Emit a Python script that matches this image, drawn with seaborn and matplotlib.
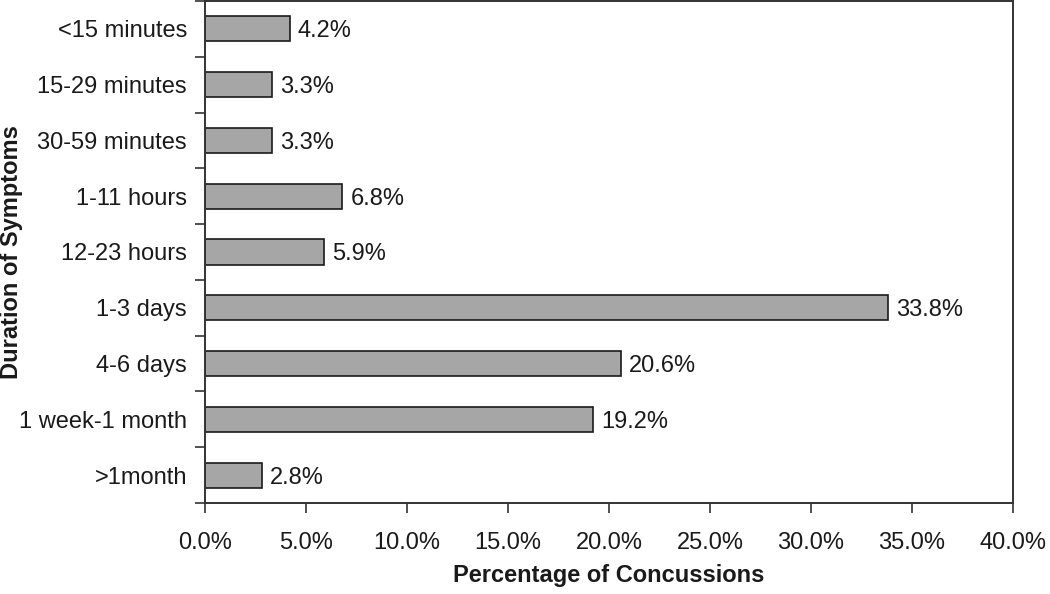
import matplotlib
matplotlib.use("Agg")
import matplotlib.pyplot as plt
import seaborn as sns
import pandas as pd
import numpy as np
from matplotlib.ticker import FixedLocator, FuncFormatter

categories = ["<15 minutes", "15-29 minutes", "30-59 minutes", "1-11 hours",
              "12-23 hours", "1-3 days", "4-6 days", "1 week-1 month", ">1month"]
values = [4.2, 3.3, 3.3, 6.8, 5.9, 33.8, 20.6, 19.2, 2.8]
xticks = [0, 5, 10, 15, 20, 25, 30, 35, 40]

sns.set_theme(style="white")
plt.rcParams['font.family'] = ['Liberation Sans', 'DejaVu Sans']

df = pd.DataFrame({"cat": categories, "val": values})

fig = plt.figure(figsize=(10.5, 5.94), dpi=100)
ax = fig.add_axes([205/1050, 1 - 503/594, (1013-205)/1050, 502/594])

sns.barplot(data=df, y="cat", x="val", order=categories, orient="h",
            color="#a6a6a6", edgecolor="#1a1a1a", linewidth=1.2,
            width=0.45, saturation=1, ax=ax)

for p, v in zip(ax.patches, values):
    y = p.get_y() + p.get_height() / 2
    ax.text(p.get_width() + 0.4, y, f"{v:.1f}%", va="center_baseline", ha="left",
            fontsize=17, color="#1a1a1a")

ax.set_xlim(0, 40)
ax.set_ylim(len(categories) - 0.5, -0.5)
ax.set_xticks(xticks)
ax.xaxis.set_major_formatter(FuncFormatter(lambda x, pos: f"{x:.1f}%"))
ax.yaxis.set_minor_locator(FixedLocator(np.arange(-0.5, len(categories), 1.0)))
ax.tick_params(axis="y", which="major", length=0, pad=13, labelsize=17, labelcolor="#1a1a1a")
ax.tick_params(axis="y", which="minor", length=7, width=1.2, color="#333333", left=True)
ax.tick_params(axis="x", which="major", length=7, width=1.2, color="#333333", bottom=True,
               pad=14, labelsize=17, labelcolor="#1a1a1a")

for s in ax.spines.values():
    s.set_visible(True)
    s.set_color("#333333")
    s.set_linewidth(1.4)

ax.set_xlabel("Percentage of Concussions", fontsize=17, fontweight="bold",
              color="#1a1a1a")
ax.set_ylabel("Duration of Symptoms", fontsize=17, fontweight="bold",
              color="#1a1a1a")
ax.xaxis.set_label_coords(0.5, (503 - 564) / 502)
ax.yaxis.set_label_coords((23 - 205) / 808, 0.5)

fig.savefig("out.png", dpi=100)
